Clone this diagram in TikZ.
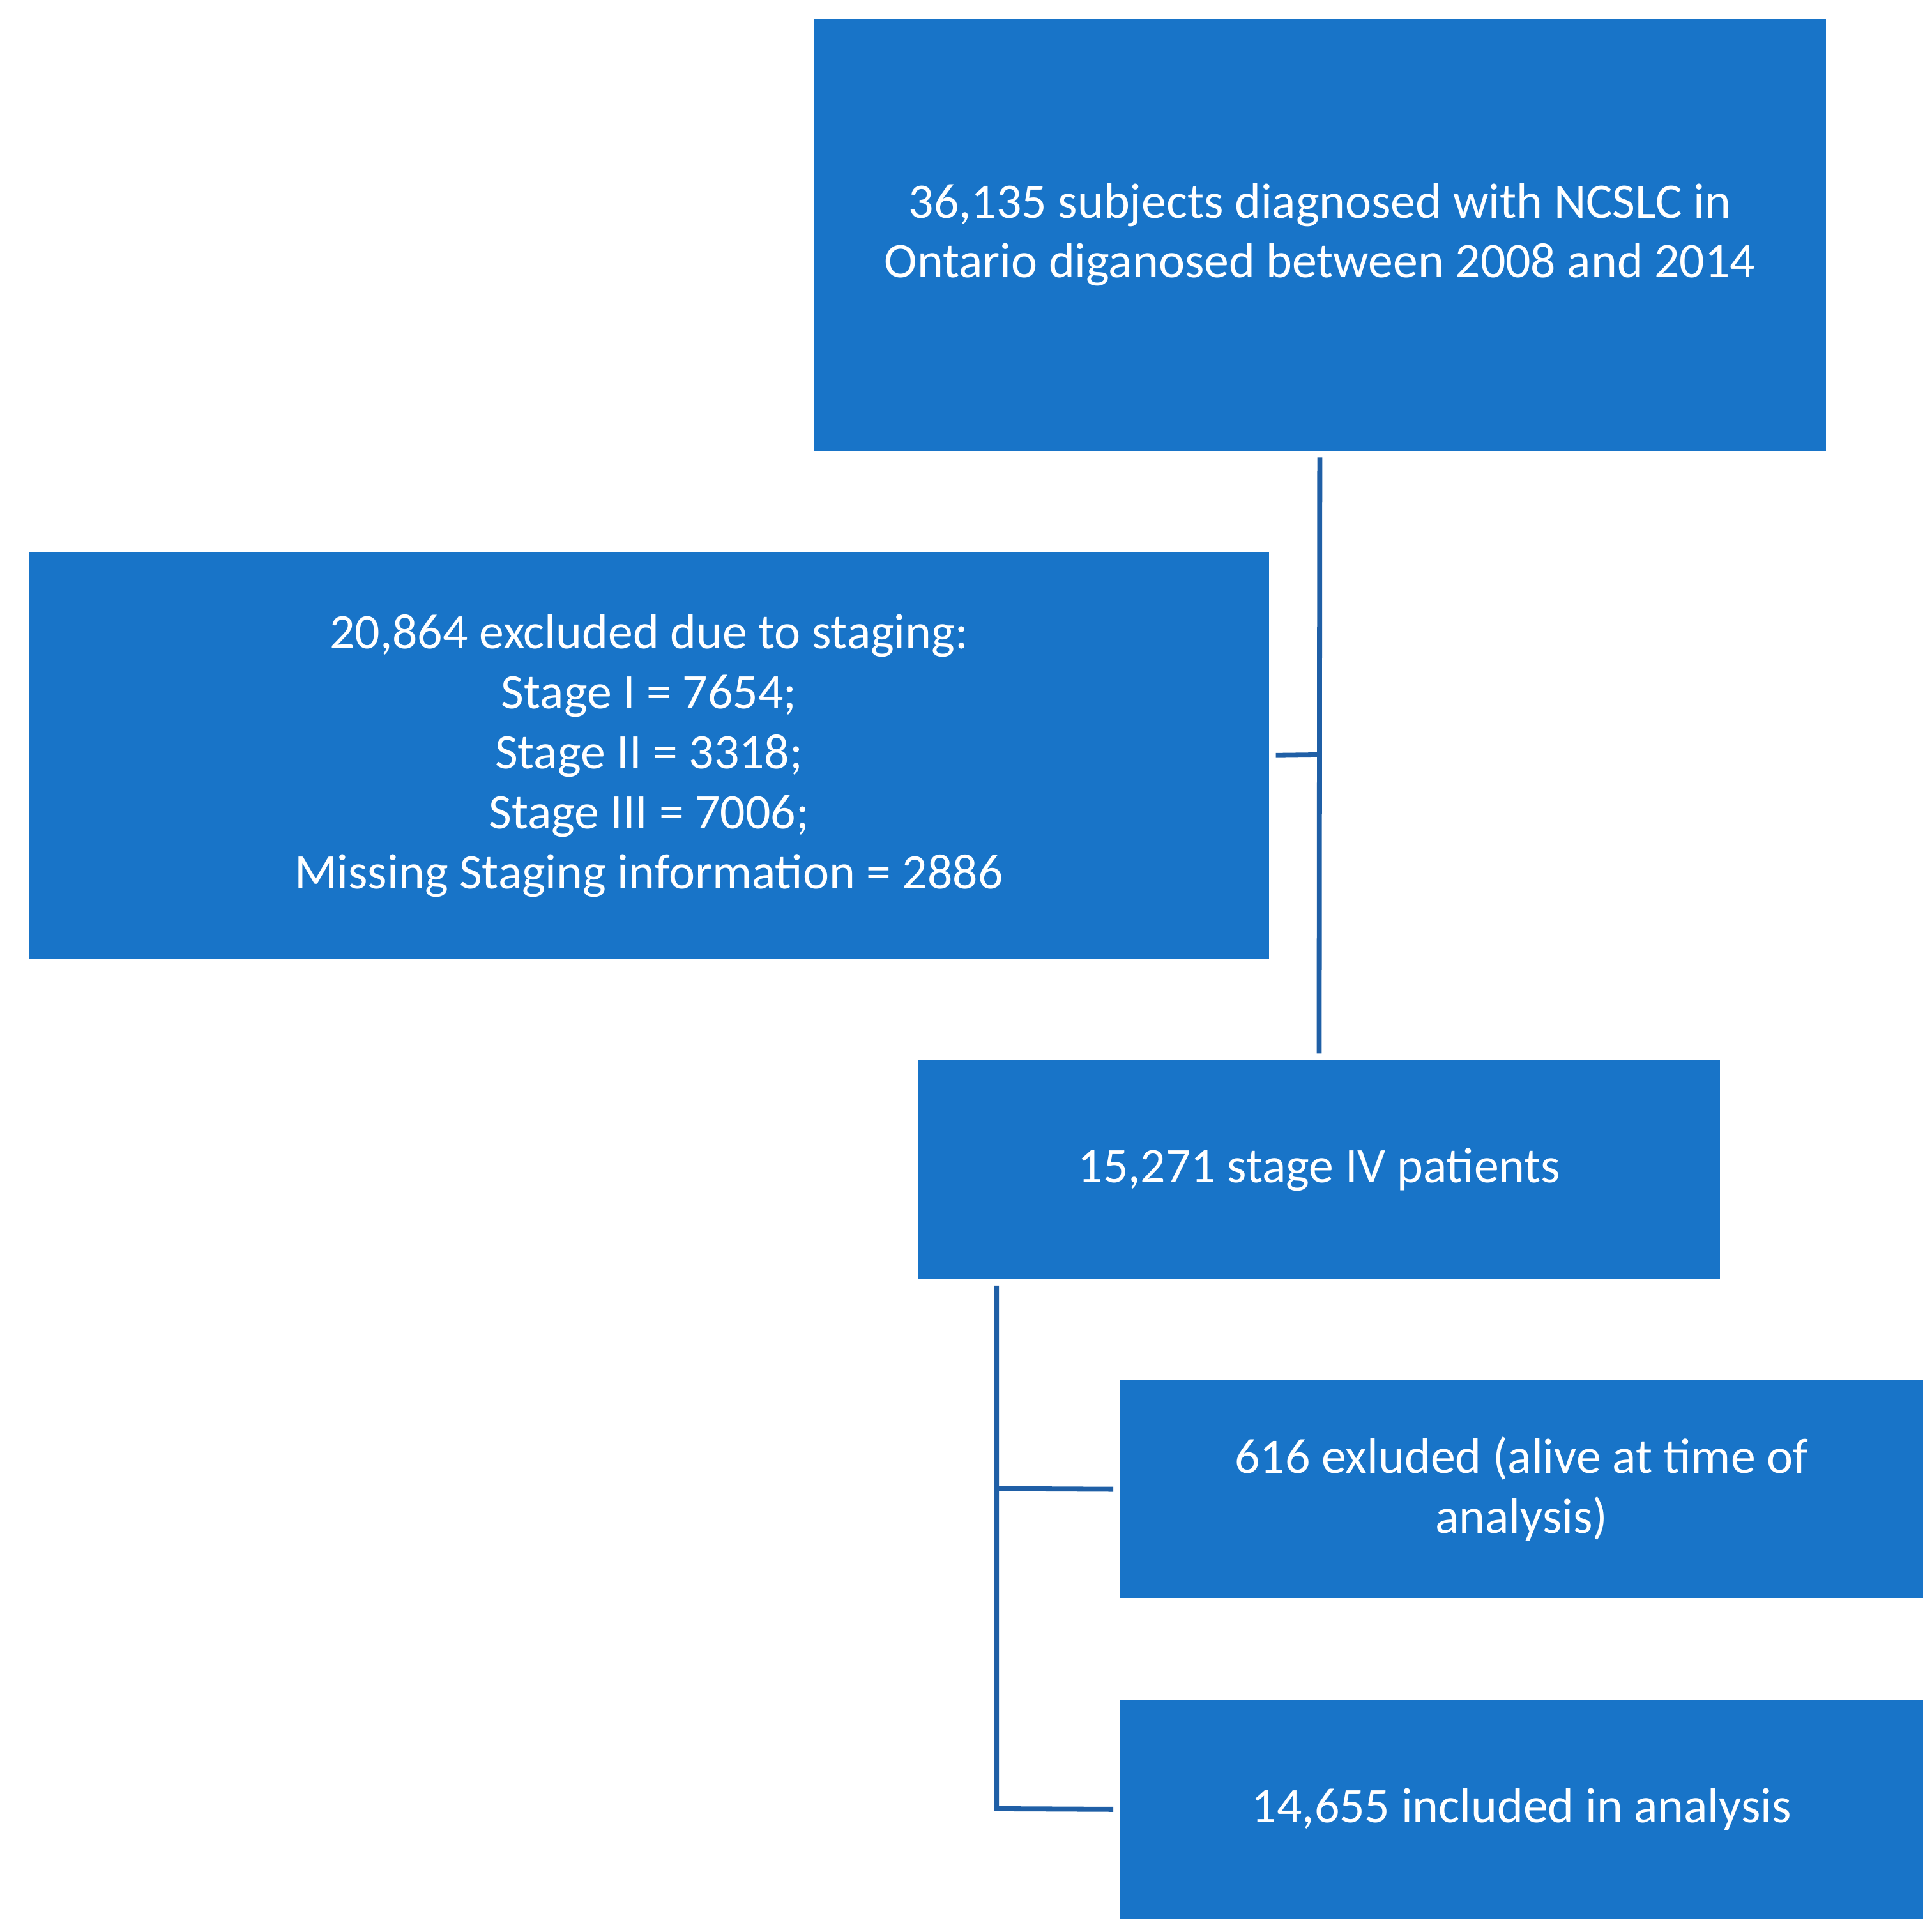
\documentclass[tikz,border=0pt]{standalone}
\usepackage{fontspec}
\setmainfont{Carlito}
\begin{document}
\begin{tikzpicture}[x=0.02cm,y=-0.02cm,
 box/.style={fill=boxblue,text=white,align=center,inner sep=0pt,font=\fontsize{22.7}{27.4}\selectfont},
 conn/.style={draw=lineblue,line width=0.08cm}]
\definecolor{boxblue}{HTML}{1874C8}
\definecolor{lineblue}{HTML}{1F5FA6}
\useasboundingbox (0,0) rectangle (1551,1545);
\node[box,minimum width=16.26cm,minimum height=6.94cm] (top) at (1059.5,188.5) {36,135 subjects diagnosed with NCSLC in\\Ontario diganosed between 2008 and 2014};
\node[box,minimum width=19.92cm,minimum height=6.54cm] (left) at (521,606.5) {20,864 excluded due to staging:\\Stage I = 7654;\\Stage II = 3318;\\Stage III = 7006;\\Missing Staging information = 2886};
\node[box,minimum width=12.88cm,minimum height=3.52cm] (mid) at (1059,939) {15,271 stage IV patients};
\node[box,minimum width=12.9cm,minimum height=3.5cm] (e1) at (1221.5,1195.5) {616 exluded (alive at time of\\analysis)};
\node[box,minimum width=12.9cm,minimum height=3.5cm] (e2) at (1221.5,1452.5) {14,655 included in analysis};
\coordinate (j1) at (1059,606);
\coordinate (v1) at (800,1027);
\coordinate (v2) at (800,1195);
\coordinate (v3) at (800,1452);
\draw[conn,shorten <=0.1cm,shorten >=0.1cm] (top.south) -- (mid.north);
\draw[conn,shorten <=0.1cm] (left.east) -- (j1);
\draw[conn,shorten <=0.1cm,shorten >=0.1cm] (v1) -- (v3) -- (e2.west);
\draw[conn,shorten >=0.1cm] (v2) -- (e1.west);
\end{tikzpicture}
\end{document}
